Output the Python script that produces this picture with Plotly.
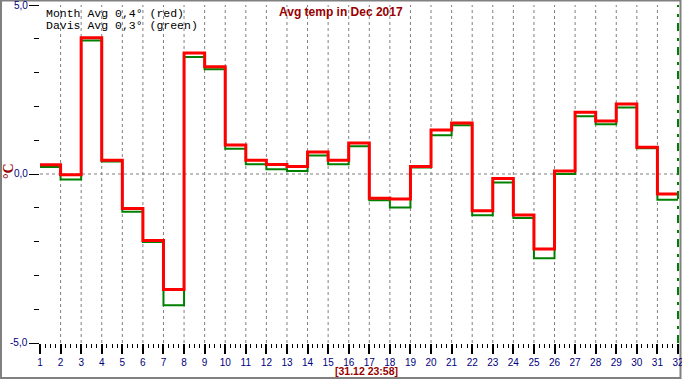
import plotly.graph_objects as go

# ---- data ----
days = list(range(1, 32))
month_avg = [0.27, -0.02, 4.03, 0.41, -1.02, -1.97, -3.42, 3.58, 3.17, 0.86,
             0.41, 0.28, 0.22, 0.65, 0.41, 0.92, -0.72, -0.74, 0.22, 1.30,
             1.51, -1.09, -0.13, -1.21, -2.22, 0.09, 1.83, 1.57, 2.07, 0.79,
             -0.59]
davis_avg = [0.21, -0.16, 3.95, 0.37, -1.12, -2.01, -3.88, 3.46, 3.10, 0.75,
             0.29, 0.14, 0.09, 0.55, 0.29, 0.82, -0.78, -0.99, 0.19, 1.15,
             1.44, -1.22, -0.25, -1.30, -2.49, 0.00, 1.71, 1.47, 1.97, 0.76,
             -0.76]
x_ticks = list(range(1, 33))
y_ticks = [-5, 0, 5]
y_tick_labels = ["-5,0", "0,0", "5,0"]
title_text = "Avg temp in Dec 2017"
legend_lines = ["Month Avg 0,4° (red)", "Davis Avg 0,3° (green)"]
stamp_text = "[31.12 23:58]"

W, H = 682, 380
ML, MR, MT, MB = 40, 4, 5, 37
PW, PH = W - ML - MR, H - MT - MB


def px_x(p):
    return (p - ML) / PW


def px_y(p):
    return (H - MB - p) / PH


x_end = days[-1] + 1
fig = go.Figure()
fig.add_trace(go.Scatter(
    x=days + [x_end], y=davis_avg + [davis_avg[-1]], mode="lines",
    line=dict(shape="hv", color="#008000", width=2), hoverinfo="skip"))
fig.add_trace(go.Scatter(
    x=days + [x_end], y=month_avg + [month_avg[-1]], mode="lines",
    line=dict(shape="hv", color="#FF0000", width=3), hoverinfo="skip"))

shapes = []
# vertical dashed grid lines at inner days
for d in x_ticks[1:-1]:
    shapes.append(dict(type="line", xref="x", yref="paper", x0=d, x1=d, y0=0, y1=1,
                       line=dict(color="#808080", width=1, dash="3px,3px"), layer="below"))
# zero line
shapes.append(dict(type="line", xref="paper", yref="y", x0=0, x1=1, y0=0, y1=0,
                   line=dict(color="#808080", width=1, dash="3px,3px"), layer="below"))
# green marker line at the end
shapes.append(dict(type="line", xref="paper", yref="paper", x0=1, x1=1, y0=0, y1=1,
                   line=dict(color="#008000", width=2, dash="8px,6px,3px,7px")))
# outer frame
shapes.append(dict(type="rect", xref="paper", yref="paper",
                   x0=px_x(1), x1=px_x(680.5), y0=px_y(378), y1=px_y(0.5),
                   line=dict(color="#808080", width=2), fillcolor="rgba(0,0,0,0)",
                   layer="below"))

annotations = [
    dict(text="<b>" + title_text + "</b>", xref="paper", yref="paper",
         x=px_x(340.5), y=px_y(12), xanchor="center", yanchor="middle",
         showarrow=False, font=dict(family="Liberation Sans, Arial", size=12, color="#990000")),
    dict(text="<b>" + stamp_text + "</b>", xref="paper", yref="paper",
         x=px_x(366), y=px_y(371), xanchor="center", yanchor="middle",
         showarrow=False, font=dict(family="Liberation Sans, Arial", size=10.5, color="#990000")),
    dict(text="<b>°C</b>", xref="paper", yref="paper", x=px_x(9), y=px_y(171),
         xanchor="center", yanchor="middle", textangle=-90, showarrow=False,
         font=dict(family="Liberation Serif, serif", size=14, color="#990000")),
]
for i, t in enumerate(legend_lines):
    annotations.append(dict(text=t, xref="paper", yref="paper", x=px_x(44), y=px_y(13 + 13 * i),
                            xanchor="left", yanchor="middle", showarrow=False,
                            font=dict(family="Liberation Mono, Courier New, monospace",
                                      size=11.5, color="#000000")))
y_px = {-5: 342, 0: 173, 5: 5.5}
for v, lab in zip(y_ticks, y_tick_labels):
    annotations.append(dict(text=lab, xref="paper", yref="paper", x=px_x(29.5), y=px_y(y_px[v]),
                            xanchor="right", yanchor="middle", showarrow=False,
                            font=dict(family="Liberation Sans, Arial", size=10, color="#000080")))

fig.update_layout(
    template="none",
    width=W, height=H, margin=dict(l=ML, r=MR, t=MT, b=MB, pad=0),
    paper_bgcolor="white", plot_bgcolor="white", showlegend=False,
    shapes=shapes, annotations=annotations,
    xaxis=dict(range=[x_ticks[0], x_ticks[-1]], tickmode="array", tickvals=x_ticks,
               ticktext=[str(v) for v in x_ticks], ticks="outside", ticklen=10,
               tickwidth=2, tickcolor="black", showgrid=False, zeroline=False,
               showline=False, ticklabeloverflow="allow", automargin=False,
               tickfont=dict(family="Liberation Sans, Arial", size=10, color="#000080"),
               minor=dict(tickmode="linear", tick0=1, dtick=0.25, ticks="outside",
                          ticklen=4, tickwidth=1, tickcolor="black", showgrid=False)),
    yaxis=dict(range=[-5, 5], tickmode="array", tickvals=y_ticks, showticklabels=False,
               ticks="outside", ticklen=10, tickwidth=1, tickcolor="black",
               showgrid=False, zeroline=False, showline=False, automargin=False,
               minor=dict(tickmode="linear", tick0=-5, dtick=1, ticks="outside",
                          ticklen=5, tickwidth=1, tickcolor="black", showgrid=False)),
)

fig.write_html("out.html", config={"displayModeBar": False},
               post_script="document.body.style.margin='0';document.body.style.overflow='hidden';")
